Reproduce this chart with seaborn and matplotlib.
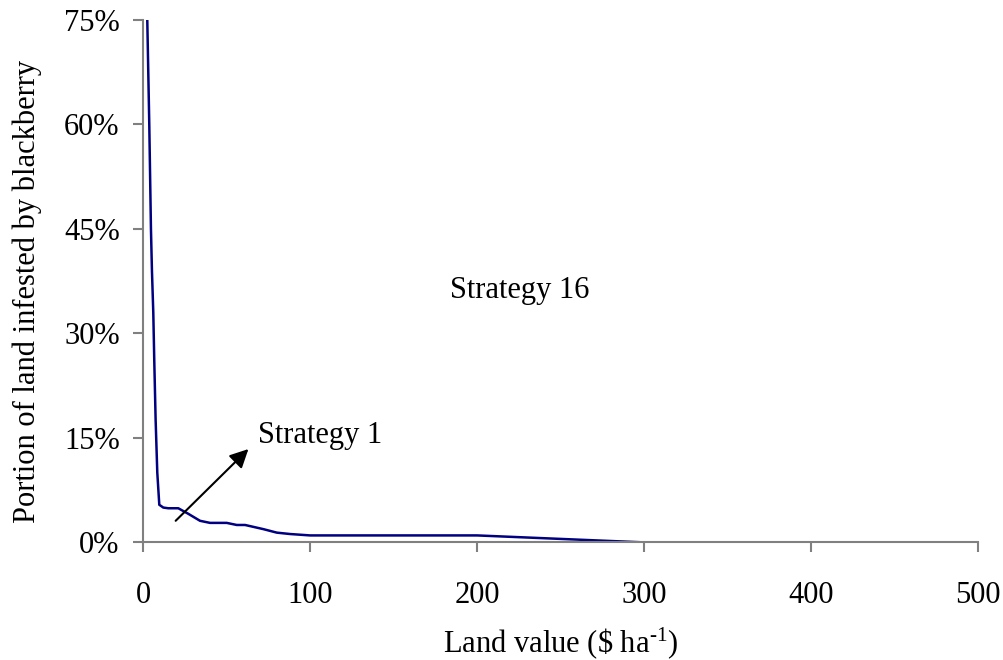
import numpy as np
import pandas as pd
import matplotlib
matplotlib.use("Agg")
import matplotlib.pyplot as plt
import seaborn as sns
from matplotlib.ticker import FuncFormatter

# land value ($/ha) and share of land infested by blackberry (%)
land_value = [2.4, 3.6, 4.6, 5.2, 6.0, 6.6, 7.4, 8.4, 9.6, 12, 15, 21, 27, 34,
              40, 50, 56, 61, 72, 80, 88, 100, 150, 200, 250, 300, 350, 400, 450, 500]
infested = [75, 60, 45, 39, 33, 26, 17.6, 10, 5.4, 5.0, 4.9, 4.9, 4.1, 3.1,
            2.8, 2.8, 2.5, 2.5, 1.9, 1.4, 1.2, 1.0, 1.0, 1.0, 0.5, 0, 0, 0, 0, 0]

x_ticks = [0, 100, 200, 300, 400, 500]
y_ticks = [0, 15, 30, 45, 60, 75]

label_s16 = "Strategy 16"
pos_s16 = (184, 36.2)
label_s1 = "Strategy 1"
pos_s1 = (69, 15.4)
arrow_tail = (19.4, 3.1)
arrow_head = (63, 13.4)

df = pd.DataFrame({"land": land_value, "infested": infested})

sns.set_style("white")
plt.rcParams['font.family'] = ['Liberation Serif', 'DejaVu Serif']
plt.rcParams['mathtext.fontset'] = 'custom'
plt.rcParams['mathtext.rm'] = 'Liberation Serif'
plt.rcParams['mathtext.it'] = 'Liberation Serif:italic'
plt.rcParams['text.color'] = 'black'
plt.rcParams['axes.labelcolor'] = 'black'

fig = plt.figure(figsize=(10.04, 6.6), dpi=100)
ax = fig.add_axes([0.1427, 0.1782, 0.9739 - 0.1427, 0.9697 - 0.1782])

sns.lineplot(data=df, x="land", y="infested", sort=False, color="#000080",
             linewidth=1.8, ax=ax)

ax.set_xlim(0, 500)
ax.set_ylim(0, 75)
ax.set_xticks(x_ticks)
ax.set_yticks(y_ticks)
ax.yaxis.set_major_formatter(FuncFormatter(lambda v, p: f"{v:.0f}%"))

for side in ["top", "right"]:
    ax.spines[side].set_visible(False)
for side in ["left", "bottom"]:
    ax.spines[side].set_color("#808080")
    ax.spines[side].set_linewidth(1.5)

ax.tick_params(axis="both", direction="out", length=7, width=1.5,
               color="#808080", labelsize=22, labelcolor="black",
               left=True, bottom=True)
ax.tick_params(axis="x", pad=21)
ax.tick_params(axis="y", pad=10)

ax.set_xlabel(r"Land value (\$ ha$^{\text{-}1}$)", fontsize=22)
ax.set_ylabel("Portion of land infested by blackberry", fontsize=22)
ax.xaxis.set_label_coords(0.5, -0.158)
ax.yaxis.set_label_coords(-0.1215, 0.481)

ax.text(pos_s16[0], pos_s16[1], label_s16, fontsize=22, ha="left", va="center")
ax.text(pos_s1[0], pos_s1[1], label_s1, fontsize=22, ha="left", va="center")
ax.annotate("", xy=arrow_head, xytext=arrow_tail,
            arrowprops=dict(arrowstyle="-|>", color="black", lw=1.5,
                            mutation_scale=28, shrinkA=0, shrinkB=0))

fig.savefig("out.png", dpi=100)
